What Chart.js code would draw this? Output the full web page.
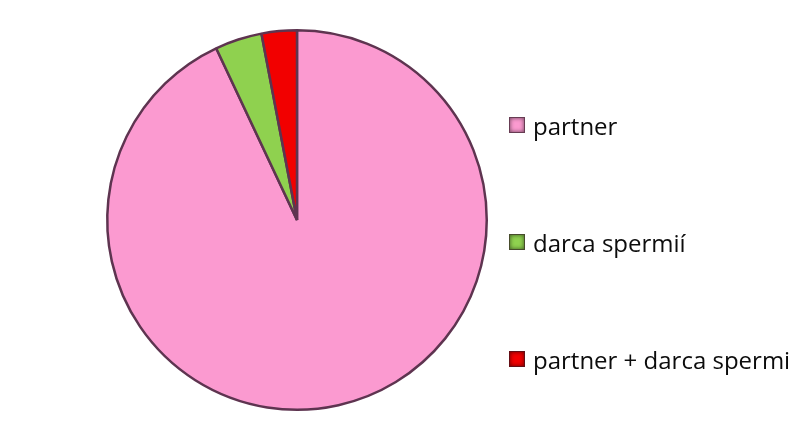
<!DOCTYPE html>
<html>
<head>
<meta charset="utf-8">
<script src="https://cdn.jsdelivr.net/npm/chart.js@4.4.1/dist/chart.umd.min.js"></script>
<style>
  html, body { margin: 0; padding: 0; background: #fff; }
  #wrap { position: relative; width: 793px; height: 427px; }
  #legend { position: absolute; left: 509px; top: 110px; margin: 0; padding: 0; list-style: none;
            font-family: "Open Sans", sans-serif; font-size: 24px; color: #0c0c0c; }
  #legend li { display: flex; align-items: center; height: 30px; margin-bottom: 87px; white-space: nowrap; }
  #legend .box { width: 14px; height: 14px; margin-right: 8px; border: 1px solid rgba(40,20,30,0.7);
                 box-shadow: inset 0 0 4px rgba(0,0,0,0.6); }
</style>
</head>
<body>
<div id="wrap">
  <canvas id="graf" width="793" height="427"></canvas>
  <ul id="legend"></ul>
</div>
<script>
// hodnoty odčítané z obrázka (%)
const kategorie = ["partner", "darca spermií", "partner + darca spermi"];
const hodnoty = [93, 4, 3];
const farby = ["#fb9ad0", "#8fd14f", "#f20000"];

const ctx = document.getElementById("graf").getContext("2d");

// legenda v HTML, zostavená z dát grafu
const htmlLegend = {
  id: "htmlLegend",
  afterUpdate(chart) {
    const ul = document.getElementById("legend");
    ul.innerHTML = "";
    chart.data.labels.forEach((lbl, i) => {
      const li = document.createElement("li");
      const box = document.createElement("span");
      box.className = "box";
      box.style.background = chart.data.datasets[0].backgroundColor[i];
      const txt = document.createElement("span");
      txt.textContent = lbl;
      li.appendChild(box);
      li.appendChild(txt);
      ul.appendChild(li);
    });
  },
};

new Chart(ctx, {
  type: "pie",
  data: {
    labels: kategorie,
    datasets: [
      {
        data: hodnoty,
        backgroundColor: farby,
        borderColor: "#5e3450",
        borderWidth: 2.5,
      },
    ],
  },
  options: {
    responsive: false,
    animation: false,
    layout: { padding: { left: 106, right: 305, top: 29, bottom: 16 } },
    plugins: {
      legend: { display: false },
      tooltip: { enabled: false },
    },
  },
  plugins: [htmlLegend],
});
</script>
</body>
</html>
